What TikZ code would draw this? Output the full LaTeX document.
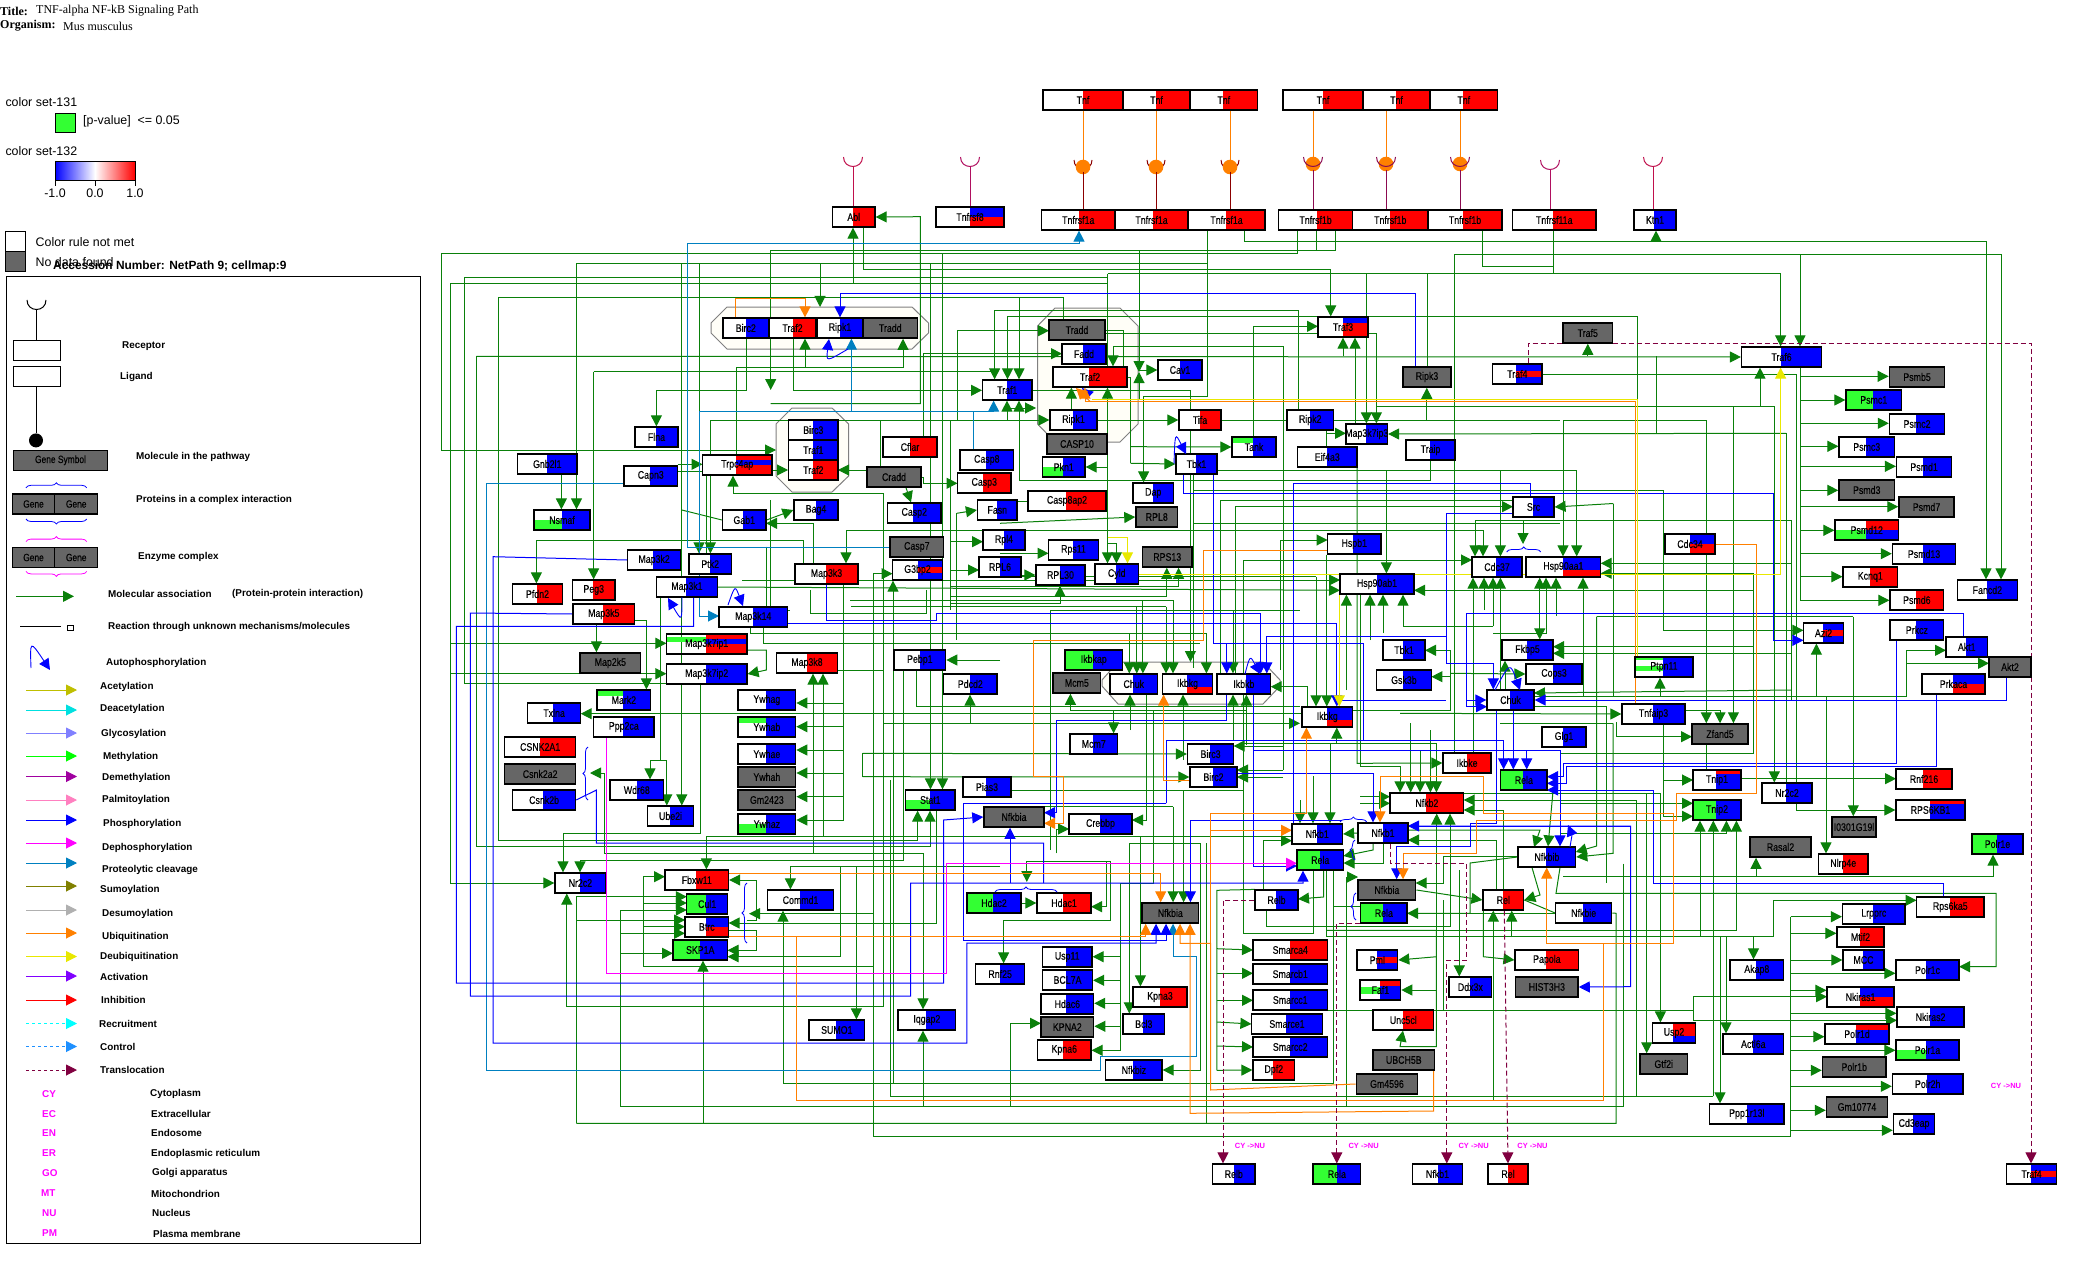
\documentclass[tikz,border=0pt]{standalone}
\usepackage{fontspec}
\usetikzlibrary{arrows.meta,decorations.pathreplacing}
\newfontfamily\genef{Liberation Sans}[FakeStretch=0.8,FakeBold=0.3]
\newfontfamily\legf{Liberation Sans}
\newfontfamily\serf{Liberation Serif}
\definecolor{lm}{HTML}{33FF33}
\definecolor{gn}{HTML}{0A800A}
\definecolor{gy}{HTML}{666666}
\definecolor{st}{HTML}{0080C0}
\definecolor{og}{HTML}{FF8000}
\definecolor{yl}{HTML}{E8E800}
\definecolor{mr}{HTML}{800040}
\definecolor{mg}{HTML}{FF00FF}
\definecolor{kA}{HTML}{BFBF00}\definecolor{kB}{HTML}{00E0E0}\definecolor{kC}{HTML}{8080FF}
\definecolor{kD}{HTML}{A000A0}\definecolor{kE}{HTML}{FF80C0}\definecolor{kF}{HTML}{808000}
\definecolor{kG}{HTML}{B0B0B0}\definecolor{kH}{HTML}{8000FF}\definecolor{kI}{HTML}{00FFFF}
\definecolor{kJ}{HTML}{1E90FF}\definecolor{kK}{HTML}{00FF00}
\definecolor{rA}{HTML}{8B0000}\definecolor{rB}{HTML}{8B0A50}\definecolor{rC}{HTML}{C0104C}\definecolor{rD}{HTML}{B01060}
\pgfdeclarelayer{bot}\pgfdeclarelayer{wires}\pgfsetlayers{bot,wires,main}
\tikzset{
 tip/.style={-{Triangle[length=11pt,width=11pt]}},
 lnG/.style={draw=gn,line width=1pt},arG/.style={lnG,tip},
 lnB/.style={draw=blue,line width=1pt},arB/.style={lnB,tip},
 lnS/.style={draw=st,line width=1pt},arS/.style={lnS,tip},
 lnO/.style={draw=og,line width=1pt},arO/.style={lnO,tip},
 lnY/.style={draw=yl,line width=1pt},arY/.style={lnY,tip},
 arM/.style={draw=mg,line width=1pt,tip},
 arT/.style={draw=mr,line width=1pt,dash pattern=on 5pt off 3pt,tip},
 gbox/.style={draw=black,line width=1.2pt,minimum height=20pt,inner sep=0pt,font=\genef\fontsize{11}{11}\selectfont},
 grbox/.style={gbox,fill=gy,line width=1.5pt},
 oct/.style={draw=gray,fill=black!4!yellow!3!white,line width=1pt},
 leg/.style={anchor=west,inner sep=0pt,font=\legf\bfseries\fontsize{9.9}{10}\selectfont},
 legn/.style={anchor=west,inner sep=0pt,font=\legf\fontsize{12.4}{13}\selectfont},
 bgn/.style={anchor=west,inner sep=0pt,text=mg,font=\legf\bfseries\fontsize{9.9}{10}\selectfont},
 cyn/.style={anchor=center,inner sep=0pt,text=mg,font=\legf\bfseries\fontsize{7.5}{8}\selectfont},
 brc/.style={decorate,decoration={brace,amplitude=5pt},line width=.8pt},
 lgene/.style={grbox,font=\genef\fontsize{10.5}{10.5}\selectfont},
}
\def\pW{white/0/20}\def\pB{blue/0/20}\def\pR{red/0/20}\def\pN{lm/0/20}
\def\pNB{lm/10/20}\def\pNT{lm/0/6}\def\pNS{lm/3/8}\def\pNM{lm/7/14}\def\pNP{lm/1/3,lm/9/14}
\def\pBR{blue/0/10,red/10/20}\def\pBr{blue/0/13,red/13/20}\def\pBRB{blue/0/7,red/7/13,blue/13/20}
\def\pRB{red/0/4,blue/4/20}\def\pRBh{red/0/10,blue/10/20}\def\pRBR{red/0/5,blue/5/10,red/10/20}
\def\pBt{blue/0/6,red/6/20}\def\pRb{red/0/13,blue/13/20}\def\pRc{red/0/6,blue/6/20}
\newcommand\gene[8]{%
 \foreach \bc/\bp/\bq in #6 {\fill[\bc] (#2,{#3+\bp}) rectangle (#5,{#3+\bq});}%
 \foreach \bc/\bp/\bq in #7 {\fill[\bc] (#5,{#3+\bp}) rectangle (#4,{#3+\bq});}%
 \node[gbox,minimum width={(#4-#2)*1pt}] (#1) at ({(#2+#4)/2},{#3+10}) {\makebox[0pt]{#8}};}
\newcommand\grn[5]{\node[grbox,minimum width={(#4-#2)*1pt}] (#1) at ({(#2+#4)/2},{#3+10}) {\makebox[0pt]{#5}};}
\newcommand\Ag[1]{\draw[arG] #1;}\newcommand\Lg[1]{\draw[lnG] #1;}
\newcommand\Ab[1]{\draw[arB] #1;}\newcommand\Lb[1]{\draw[lnB] #1;}
\newcommand\As[1]{\draw[arS] #1;}\newcommand\Ls[1]{\draw[lnS] #1;}
\newcommand\Ao[1]{\draw[arO] #1;}\newcommand\Lo[1]{\draw[lnO] #1;}
\newcommand\Ay[1]{\draw[arY] #1;}\newcommand\Ly[1]{\draw[lnY] #1;}
\newcommand\Am[1]{\draw[arM] #1;}\newcommand\At[1]{\draw[arT] #1;}
\newcommand\recep[4]{\draw[#4,line width=1pt] ({#1-#3},#2) .. controls ({#1-#3},{#2+1.33*#3}) and ({#1+#3},{#2+1.33*#3}) .. ({#1+#3},#2);}
\newcounter{lc}
\newcommand\Lt[4][leg]{\stepcounter{lc}\node[#1] (t\thelc) at (#2,#3) {#4};}
\newcommand\Lar[3]{\stepcounter{lc}\coordinate (a\thelc) at (26,#1);\coordinate (b\thelc) at (77,#1);\draw[draw=#2,line width=1pt,#3,tip] (a\thelc)--(b\thelc);}
\newcommand\Auto[6]{\draw[blue,line width=.9pt,tip] (#1,#2) .. controls (#3,#4) and (#3,#4) .. (#5,#6);}
\begin{document}
\begin{tikzpicture}[x=1pt,y=-1pt]
\useasboundingbox (0,0) rectangle (2085,1273);
% ---------- header and legend
\node[anchor=west,inner sep=0pt,font=\serf\bfseries\fontsize{12}{13}\selectfont] (ti) at (0,11) {Title:};
\node[anchor=west,inner sep=0pt,font=\serf\fontsize{12}{13}\selectfont] (tv) at (36,11) {TNF-alpha NF-kB Signaling Path};
\node[anchor=west,inner sep=0pt,font=\serf\bfseries\fontsize{12}{13}\selectfont] (oi) at (0,26) {Organism:};
\node[anchor=west,inner sep=0pt,font=\serf\fontsize{12}{13}\selectfont] (ov) at (63,26) {Mus musculus};
\Lt[legn]{5.3}{102}{color set-131}
\node[draw=black,fill=lm,line width=1pt,minimum width=20pt,minimum height=19.5pt,inner sep=0pt] (cs) at (65,123.2) {};
\Lt[legn]{83}{120.8}{[p-value]\ \ <= 0.05}
\Lt[legn]{5.3}{151}{color set-132}
\shade[left color=blue,right color=white] (55,161.6) rectangle (95,181);
\shade[left color=white,right color=red] (95,161.6) rectangle (135,181);
\draw[black,line width=1pt] (55,161.6) rectangle (135,181);
\foreach \tx in {55,95,135}{\draw[black,line width=.7pt] (\tx,181)--(\tx,186);}
\node[legn,anchor=center] (t1a) at (55,193.5) {-1.0};
\node[legn,anchor=center] (t1b) at (95,193.5) {0.0};
\node[legn,anchor=center] (t1c) at (135,193.5) {1.0};
\node[draw=black,fill=white,line width=1pt,minimum size=20pt,inner sep=0pt] (cw) at (15.3,241.4) {};
\node[draw=black,fill=gy,line width=1pt,minimum size=20pt,inner sep=0pt] (cg) at (15.3,261.4) {};
\Lt[legn]{35.5}{241.6}{Color rule not met}
\Lt[legn]{35.5}{261.6}{No data found}
\Lt[leg]{53}{266.9}{\fontsize{11.9}{12}\selectfont Accession Number: NetPath 9; cellmap:9}
\draw[black,line width=1pt] (6.3,276.7) rectangle (420.7,1243.5);
\recep{36.5}{300}{9.5}{black}
\node[draw=black,line width=.8pt,minimum width=47.4pt,minimum height=20pt,inner sep=0pt] (lr) at (37,350.4) {};
\node[draw=black,line width=.8pt,minimum width=47.4pt,minimum height=20pt,inner sep=0pt] (ll) at (37,376.5) {};
\coordinate (lrc) at (36.5,310);
\draw[black,line width=.8pt] (lrc)--(lrc|-lr.north);
\node[circle,fill=black,minimum size=14pt,inner sep=0pt] (lc) at (36,440.4) {};
\draw[black,line width=.8pt] (ll.south-|lc)--(lc);
\node[lgene,minimum width=94.4pt] (lgs) at (60.5,460.3) {Gene Symbol};
\draw[blue,brc] (26,487.8)--(86.7,487.8);
\node[lgene,minimum width=42.4pt] (lg1) at (33.5,504) {Gene};
\node[lgene,minimum width=43pt] (lg2) at (76.2,504) {Gene};
\draw[blue,brc] (86.7,519)--(26,519);
\draw[mg,brc] (26,541.6)--(86.7,541.6);
\node[lgene,minimum width=42.4pt] (lg3) at (33.5,557.5) {Gene};
\node[lgene,minimum width=43pt] (lg4) at (76.2,557.5) {Gene};
\draw[mg,brc] (86.7,571.4)--(26,571.4);
\Lt{122}{346.5}{Receptor}\Lt{120}{376.7}{Ligand}\Lt{136}{456.7}{Molecule in the pathway}
\Lt{136}{499.6}{Proteins in a complex interaction}\Lt{138}{556.7}{Enzyme complex}
\Lt{108}{593.5}{Molecular association}\Lt{232}{593.5}{(Protein-protein interaction)}
\Lt{108}{626.5}{Reaction through unknown mechanisms/molecules}
\coordinate (lm1) at (16,596.3);\coordinate (lm2) at (74,596.3);\draw[draw=gn,line width=1pt,tip] (lm1)--(lm2);
\coordinate (lb1) at (20,626);\coordinate (lb2) at (61,626);\draw[black,line width=.7pt] (lb1)--(lb2);
\draw[black,line width=.7pt] (67,630)--(67,625)--(73.5,625)--(73.5,630)--cycle;
\Auto{31}{668}{30}{640}{50}{670}
\Lt{106}{663.4}{Autophosphorylation}
\Lar{690}{kA}{solid}\Lt{100}{686.8}{Acetylation}
\Lar{710}{kB}{solid}\Lt{100}{709.4}{Deacetylation}
\Lar{733}{kC}{solid}\Lt{101}{733.7}{Glycosylation}
\Lar{756}{kK}{solid}\Lt{103}{756.7}{Methylation}
\Lar{776.5}{kD}{solid}\Lt{102}{777.7}{Demethylation}
\Lar{800}{kE}{solid}\Lt{102}{800}{Palmitoylation}
\Lar{820}{blue}{solid}\Lt{103}{823.7}{Phosphorylation}
\Lar{843}{mg}{solid}\Lt{102}{848}{Dephosphorylation}
\Lar{863}{st}{solid}\Lt{102}{869.7}{Proteolytic cleavage}
\Lar{886}{kF}{solid}\Lt{100}{890}{Sumoylation}
\Lar{910}{kG}{solid}\Lt{102}{913.7}{Desumoylation}
\Lar{933}{og}{solid}\Lt{102}{936.7}{Ubiquitination}
\Lar{956.5}{yl}{solid}\Lt{100}{957}{Deubiquitination}
\Lar{976}{kH}{solid}\Lt{100}{976.7}{Activation}
\Lar{1000}{red}{solid}\Lt{101}{999.7}{Inhibition}
\Lar{1023.5}{kI}{dashed}\Lt{99}{1024}{Recruitment}
\Lar{1046.5}{kJ}{dashed}\Lt{100}{1047}{Control}
\Lar{1070}{mr}{dashed}\Lt{100}{1070}{Translocation}
\Lt[bgn]{42}{1093.8}{CY}\Lt{150}{1093.8}{Cytoplasm}
\Lt[bgn]{42}{1113.6}{EC}\Lt{151}{1113.6}{Extracellular}
\Lt[bgn]{42}{1133.3}{EN}\Lt{151}{1133.3}{Endosome}
\Lt[bgn]{42}{1153.5}{ER}\Lt{151}{1153.5}{Endoplasmic reticulum}
\Lt[bgn]{42}{1173.3}{GO}\Lt{152}{1173.3}{Golgi apparatus}
\Lt[bgn]{41}{1193.5}{MT}\Lt{151}{1193.5}{Mitochondrion}
\Lt[bgn]{42}{1213.3}{NU}\Lt{152}{1213.3}{Nucleus}
\Lt[bgn]{42}{1233.5}{PM}\Lt{153}{1233.5}{Plasma membrane}
\Lt[cyn]{1250}{1146}{CY ->NU}\Lt[cyn]{1363.6}{1146}{CY ->NU}\Lt[cyn]{1473.6}{1146}{CY ->NU}\Lt[cyn]{1532.5}{1146}{CY ->NU}\Lt[cyn]{2006}{1086}{CY ->NU}
% ---------- complexes
\begin{pgfonlayer}{bot}
\draw[oct] (727,307)--(912,307)--(928.5,323)--(928.5,333)--(912,349)--(727,349)--(711,333)--(711,323)--cycle;
\draw[oct] (792,408)--(832,408)--(848.6,424)--(848.6,476)--(832,492)--(792,492)--(776,476)--(776,424)--cycle;
\draw[oct] (1055,308)--(1120,308)--(1138,326)--(1138,424)--(1120,442)--(1055,442)--(1037.5,424)--(1037.5,326)--cycle;
\draw[oct] (1118,662)--(1263,662)--(1280,680)--(1280,686)--(1263,704)--(1118,704)--(1102,686)--(1102,680)--cycle;
\end{pgfonlayer}
% ---------- genes
\gene{Tnfa}{1043}{90}{1123}{1083}\pW\pR{Tnf}\gene{Tnfb}{1123}{90}{1190}{1156}\pW\pR{Tnf}\gene{Tnfc}{1190}{90}{1257.5}{1223}\pW\pR{Tnf}
\gene{Tnfd}{1283}{90}{1363}{1323}\pW\pR{Tnf}\gene{Tnfe}{1363}{90}{1430}{1396}\pW\pR{Tnf}\gene{Tnff}{1430}{90}{1497.5}{1463}\pW\pR{Tnf}
\gene{Ra1}{1041.5}{210}{1115}{1079}\pW\pR{Tnfrsf1a}\gene{Ra2}{1115}{210}{1188}{1153}\pW\pR{Tnfrsf1a}\gene{Ra3}{1188}{210}{1265}{1226}\pW\pR{Tnfrsf1a}
\gene{Rb1}{1278.6}{210}{1352.5}{1317}\pW\pR{Tnfrsf1b}\gene{Rb2}{1352.5}{210}{1428}{1390}\pW\pR{Tnfrsf1b}\gene{Rb3}{1428}{210}{1502}{1463}\pW\pR{Tnfrsf1b}
\gene{R11}{1512.5}{210}{1596}{1553}\pW\pR{Tnfrsf11a}
\gene{Kt}{1634}{210}{1676}{1654}\pW\pB{Ktn1}
\gene{R8}{936}{207}{1004}{970}\pW\pBR{Tnfrsf8}
\gene{Abl}{832.5}{207}{875}{853}\pW\pR{Abl}
\gene{BircA}{723}{318}{768.6}{746}\pW\pB{Birc2}\gene{TrafA}{769}{318}{816}{793}\pW\pR{Traf2}\gene{RipkA}{817.5}{318}{862.5}{840}\pW\pB{Ripk1}\grn{TraddA}{863}{318}{917.5}{Tradd}
\gene{Flna}{635}{427}{678}{656}\pW\pB{Flna}
\gene{BircB}{788.6}{420}{838}{813}\pW\pB{Birc3}\gene{Traf1B}{788.6}{440}{838}{813}\pW\pB{Traf1}\gene{Traf2B}{788.6}{460}{838}{813}\pW\pR{Traf2}
\gene{Cflar}{883}{437}{937}{910}\pW\pR{Cflar}
\grn{TraddC}{1049}{320}{1105}{Tradd}\gene{Fadd}{1062}{344}{1106}{1083}\pW\pB{Fadd}\gene{Traf2C}{1053}{367}{1127}{1089}\pW\pR{Traf2}
\gene{Ripk1C}{1050}{410}{1097}{1073}\pW\pB{Ripk1}\grn{Casp10}{1047}{434}{1107}{CASP10}
\gene{Traf1}{982.5}{380}{1032}{1007}\pW\pB{Traf1}\gene{Cav1}{1158}{360}{1202}{1180}\pW\pB{Cav1}
\gene{Traf3}{1318}{317}{1368}{1343}\pW\pBt{Traf3}\grn{Ripk3}{1403}{367}{1451}{Ripk3}\gene{Traf4}{1492.5}{364}{1542}{1516}\pW\pBRB{Traf4}
\gene{Tifa}{1179}{410}{1221}{1200}\pW\pR{Tifa}\gene{Ripk2}{1287}{410}{1333.5}{1310}\pW\pB{Ripk2}
\gene{Map3k7ip3}{1346}{424}{1387.5}{1366}\pW\pB{Map3k7ip3}\gene{Tank}{1232}{437}{1276}{1253}\pNT\pB{Tank}
\gene{Eif4a3}{1297.5}{447}{1357}{1327}\pW\pB{Eif4a3}\gene{Traip}{1406}{440}{1455}{1430}\pW\pB{Traip}\gene{Tbk1}{1176}{454}{1217}{1196}\pW\pB{Tbk1}
\gene{Pkn1}{1042.5}{457}{1085}{1063}\pNB\pB{Pkn1}\gene{Dap}{1133}{483}{1173.5}{1153}\pW\pB{Dap}\grn{RPL8}{1136}{507}{1177.5}{RPL8}
\gene{Casp8ap2}{1028}{491}{1106}{1066}\pW\pR{Casp8ap2}\gene{Rpl4}{983}{530}{1025}{1004}\pW\pB{Rpl4}\gene{RPL6}{979}{557}{1021}{1000}\pW\pB{RPL6}
\gene{Rps11}{1048.5}{540}{1098.5}{1073}\pW\pB{Rps11}\gene{RPL30}{1036}{565}{1085}{1060}\pW\pB{RPL30}\grn{RPS13}{1142.5}{547}{1192}{RPS13}
\gene{Cyld}{1095}{564}{1138.5}{1116}\pW\pB{Cyld}\gene{Hspb1}{1327.5}{534}{1381}{1353}\pW\pB{Hspb1}\gene{Hsp90ab1}{1340}{574}{1414}{1377}\pW\pB{Hsp90ab1}
\gene{Src}{1513}{497}{1554}{1533}\pW\pB{Src}\gene{Cdc37}{1472}{557}{1522}{1496}\pW\pB{Cdc37}\gene{Hsp90aa1}{1526}{557}{1600.7}{1563}\pW\pBr{Hsp90aa1}
\gene{Cdc34}{1665}{534}{1715}{1690}\pW\pBR{Cdc34}\gene{Fkbp5}{1502}{640}{1553}{1527}\pW\pB{Fkbp5}\gene{Cops3}{1526}{664}{1582}{1553}\pW\pB{Cops3}
\gene{Chuk2}{1487}{690}{1534}{1510}\pW\pB{Chuk}\gene{Ptpn11}{1635}{657}{1693}{1663}\pNP\pB{Ptpn11}\gene{Tnfaip3}{1622}{704}{1685}{1653}\pW\pB{Tnfaip3}
\grn{Zfand5}{1692}{724}{1748}{Zfand5}\gene{Glg1}{1542}{727}{1586}{1563}\pW\pB{Glg1}
\grn{Traf5}{1563}{323}{1612.5}{Traf5}\gene{Traf6}{1741.5}{347}{1821.5}{1781}\pW\pB{Traf6}\grn{Psmb5}{1889.4}{367}{1944.7}{Psmb5}
\gene{Psmc1}{1846}{390}{1901.5}{1873}\pN\pB{Psmc1}\gene{Psmc2}{1889.4}{414}{1944.7}{1916}\pW\pB{Psmc2}\gene{Psmc3}{1839}{437}{1894.5}{1866}\pW\pB{Psmc3}
\gene{Psmd1}{1896.5}{457}{1951.7}{1923}\pW\pB{Psmd1}\grn{Psmd3}{1839}{480}{1894.5}{Psmd3}\grn{Psmd7}{1899}{497}{1954}{Psmd7}
\gene{Psmd12}{1835}{520}{1898.5}{1866}\pNB\pRBh{Psmd12}\gene{Psmd13}{1892.4}{544}{1955.7}{1923}\pW\pB{Psmd13}\gene{Kcnq1}{1843}{567}{1897.5}{1870}\pW\pR{Kcnq1}
\gene{Psmd6}{1890}{590}{1943.7}{1916}\pW\pR{Psmd6}\gene{Fancd2}{1957.4}{580}{2017.3}{1987}\pW\pB{Fancd2}\gene{Azi2}{1803.4}{623}{1843.6}{1823}\pW\pBRB{Azi2}
\gene{Prkcz}{1890}{620}{1943.7}{1916}\pW\pB{Prkcz}\gene{Akt1}{1946}{637}{1987.5}{1966}\pW\pB{Akt1}\grn{Akt2}{1989}{657}{2031}{Akt2}\gene{Prkaca}{1922}{674}{1985}{1953}\pW\pBR{Prkaca}
\gene{Tnip1}{1693}{770}{1741}{1716}\pW\pRB{Tnip1}\gene{Tnip2}{1693}{800}{1741}{1716}\pN\pB{Tnip2}\gene{Nr2c2b}{1762}{783}{1812}{1786}\pW\pB{Nr2c2}
\gene{Rnf216}{1896}{769}{1952}{1923}\pW\pR{Rnf216}\gene{RPS6KB1}{1896}{800}{1965}{1930}\pW\pRB{RPS6KB1}\grn{I0301}{1832}{817}{1876}{I0301G19l}
\grn{Rasal2}{1750}{837}{1811}{Rasal2}\gene{Nlrp4e}{1818.5}{854}{1868}{1843}\pW\pR{Nlrp4e}\gene{Polr1e}{1972}{834}{2023}{1997}\pN\pB{Polr1e}
\gene{Rps6ka5}{1916.5}{897}{1984}{1950}\pW\pR{Rps6ka5}\gene{Lrpprc}{1842.5}{904}{1905}{1873}\pW\pB{Lrpprc}\gene{Mtif2}{1837}{927}{1884}{1860}\pW\pR{Mtif2}
\gene{MCC}{1843}{950}{1884}{1863}\pW\pB{MCC}\gene{Polr1c}{1896}{960}{1959}{1926}\pW\pB{Polr1c}\gene{Akap8}{1730}{960}{1783.6}{1756}\pW\pB{Akap8}
\gene{Nkiras1}{1827}{987}{1894}{1860}\pW\pBR{Nkiras1}\gene{Nkiras2}{1897}{1007}{1964}{1930}\pW\pB{Nkiras2}\gene{Polr1d}{1825}{1024}{1889}{1856}\pW\pRc{Polr1d}
\gene{Polr1a}{1896}{1040}{1959}{1926}\pNB\pB{Polr1a}\grn{Polr1b}{1822.5}{1057}{1886}{Polr1b}\gene{Polr2h}{1892.4}{1074}{1963}{1927}\pW\pB{Polr2h}
\gene{Actl6a}{1723}{1034}{1783.6}{1753}\pW\pB{Actl6a}\gene{Usp2}{1652.4}{1023}{1695.6}{1673}\pW\pRb{Usp2}\grn{Gtf2i}{1640}{1054}{1687.5}{Gtf2i}
\gene{Ppp1r13l}{1709.6}{1104}{1784}{1747}\pW\pB{Ppp1r13l}\grn{Gm10774}{1826.5}{1097}{1887.4}{Gm10774}\gene{Cd3eap}{1893.4}{1114}{1934.6}{1913}\pW\pB{Cd3eap}
\gene{Traf4b}{2006.6}{1164}{2056.5}{2031}\pW\pBRB{Traf4}\gene{Nfkbie}{1555.7}{903}{1611.7}{1583}\pW\pB{Nfkbie}
\gene{Ikbke}{1443}{753}{1491}{1467}\pW\pR{Ikbke}\gene{Rela1}{1500.7}{770}{1547}{1523}\pN\pB{Rela}\gene{Nfkb2}{1390}{793}{1463.7}{1426}\pW\pR{Nfkb2}
\gene{Nfkb1b}{1358}{823}{1408}{1383}\pW\pB{Nfkb1}\gene{Nfkbib}{1518}{847}{1575.7}{1546}\pW\pB{Nfkbib}\grn{Nfkbia2}{1358}{880}{1415.7}{Nfkbia}
\gene{Rela3}{1360.7}{903}{1407}{1383}\pN\pB{Rela}\gene{Rel1}{1483}{890}{1523.7}{1503}\pW\pR{Rel}\gene{Pml}{1357}{950}{1397.7}{1377}\pW\pBRB{Pml}
\gene{Faf1}{1360}{980}{1400.7}{1380}\pNM\pRc{Faf1}\gene{Papola}{1515}{950}{1578.7}{1546}\pW\pR{Papola}\grn{HIST3H3}{1515.7}{977}{1578}{HIST3H3}\gene{Ddx3x}{1449}{977}{1491.7}{1470}\pW\pB{Ddx3x}
\gene{Nfkb1a}{1292}{824}{1342.5}{1317}\pW\pB{Nfkb1}\gene{Rela2}{1297}{850}{1343.5}{1320}\pN\pB{Rela}\gene{Relb}{1255}{890}{1298}{1276}\pW\pB{Relb}
\gene{Hdac1}{1037}{893}{1091}{1062.5}\pW\pR{Hdac1}\gene{Hdac2}{967}{893}{1021}{993}\pN\pB{Hdac2}\grn{NfkbiaC}{1142}{903}{1198.6}{Nfkbia}
\gene{Usp11}{1042.5}{947}{1092}{1066}\pW\pB{Usp11}\gene{BCL7A}{1042.5}{970}{1092.5}{1066}\pW\pB{BCL7A}\gene{Hdac6}{1041}{994}{1093.6}{1066}\pW\pB{Hdac6}
\grn{KPNA2}{1041}{1017}{1093.6}{KPNA2}\gene{Kpna6}{1037.5}{1040}{1091}{1063}\pW\pR{Kpna6}\gene{Nfkbiz}{1105.7}{1060}{1162}{1133}\pW\pB{Nfkbiz}
\gene{Kpna3}{1133}{987}{1187}{1160}\pW\pR{Kpna3}\gene{Bcl3}{1123}{1014}{1164.6}{1143}\pW\pB{Bcl3}
\gene{Smarca4}{1253}{940}{1327.5}{1290}\pW\pR{Smarca4}\gene{Smarcb1}{1253}{964}{1327.5}{1290}\pW\pB{Smarcb1}\gene{Smarcc1}{1253}{990}{1327.5}{1290}\pW\pB{Smarcc1}
\gene{Smarce1}{1251.4}{1014}{1322.5}{1285.7}\pW\pB{Smarce1}\gene{Smarcc2}{1253}{1037}{1327.5}{1290}\pW\pB{Smarcc2}\gene{Dpf2}{1253}{1060}{1294.6}{1273}\pW\pR{Dpf2}
\gene{Unc5cl}{1373}{1010}{1433.6}{1403}\pW\pR{Unc5cl}\grn{UBCH5B}{1373}{1050}{1434.6}{UBCH5B}\grn{Gm4596}{1356.4}{1074}{1417.5}{Gm4596}
\gene{Relbb}{1212.5}{1164}{1255}{1233.6}\pW\pB{Relb}\gene{Relab}{1313}{1164}{1360.7}{1337}\pN\pB{Rela}\gene{Nfkb1c}{1412.5}{1164}{1462.5}{1437.5}\pW\pB{Nfkb1}\gene{Relc}{1488}{1164}{1528}{1508}\pW\pR{Rel}
\gene{Ikbkap}{1065}{650}{1122.5}{1093}\pN\pB{Ikbkap}\grn{Mcm5}{1053}{673}{1100.7}{Mcm5}\gene{Chuk}{1110}{674}{1157.5}{1133}\pW\pB{Chuk}
\gene{Ikbkg}{1162.5}{674}{1212.5}{1187}\pW\pBr{Ikbkg}\gene{Ikbkb}{1217}{674}{1270.7}{1246}\pW\pB{Ikbkb}\gene{Mcm7}{1070}{734}{1117.5}{1093}\pW\pB{Mcm7}
\gene{Ikbkg2}{1302}{707}{1352.5}{1327}\pW\pBr{Ikbkg}\gene{Tbk1b}{1383}{640}{1425}{1403}\pW\pB{Tbk1}\gene{Gsk3b}{1376.4}{670}{1431.4}{1403}\pW\pB{Gsk3b}
\gene{Birc3}{1187.5}{744}{1233.6}{1210}\pW\pB{Birc3}\gene{Birc2}{1190}{767}{1237}{1213}\pW\pB{Birc2}\gene{Crebbp}{1069}{814}{1132}{1100}\pW\pB{Crebbp}
\grn{Nfkbia1}{984}{807}{1044}{Nfkbia}\gene{Pias3}{963}{777}{1011}{986}\pW\pB{Pias3}
\gene{Gnb2l1}{517.5}{454}{577}{547}\pW\pB{Gnb2l1}\gene{Capn3}{624}{466}{677.5}{650}\pW\pB{Capn3}\gene{Trpc4ap}{702.5}{455}{772}{736}\pW\pRBR{Trpc4ap}
\gene{Nsmaf}{534}{510}{590}{562}\pNB\pB{Nsmaf}\gene{Gab1}{722.5}{510}{766}{743}\pW\pB{Gab1}\gene{Bag4}{794}{500}{838}{816}\pW\pB{Bag4}\grn{Cradd}{867}{467}{921}{Cradd}
\gene{Casp2}{887.5}{503}{941}{913}\pW\pB{Casp2}\gene{Casp8}{960}{450}{1013.6}{986.4}\pW\pB{Casp8}\gene{Casp3}{957.5}{473}{1011}{983}\pW\pR{Casp3}\gene{Fasn}{977.5}{500}{1017}{997}\pW\pB{Fasn}
\grn{Casp7}{890}{537}{943.6}{Casp7}\gene{G3bp2}{892.5}{560}{942.5}{917.5}\pW\pBRB{G3bp2}\gene{Map3k2}{627.5}{550}{680.7}{653}\pW\pB{Map3k2}\gene{Ptk2}{689}{554}{731.4}{710}\pW\pB{Ptk2}
\gene{Map3k3}{795}{564}{858}{826}\pW\pR{Map3k3}\gene{Map3k1}{656.4}{577}{717.5}{686}\pW\pB{Map3k1}\gene{Pfdn2}{512.5}{584}{562.5}{537}\pW\pR{Pfdn2}\gene{Peg3}{572.5}{580}{615}{593}\pW\pR{Peg3}
\gene{Map3k5}{573}{604}{634.6}{603}\pW\pR{Map3k5}\gene{Map3k14}{719}{607}{787.5}{753}\pW\pB{Map3k14}\gene{Map3k7ip1}{666.4}{634}{747}{706}\pNS\pRBR{Map3k7ip1}\gene{Map3k7ip2}{666.4}{664}{747}{706}\pW\pB{Map3k7ip2}
\grn{Map2k5}{580}{653}{640.7}{Map2k5}\gene{Map3k8}{776.4}{653}{837.5}{807}\pW\pR{Map3k8}\gene{Pebp1}{894}{650}{945.7}{920}\pW\pB{Pebp1}\gene{Pdcd2}{943.6}{674}{997}{970}\pW\pB{Pdcd2}
\gene{Mark2}{597}{690}{650.7}{623}\pNT\pB{Mark2}\gene{Txlna}{527.5}{703}{580.7}{553}\pW\pB{Txlna}\gene{Ppp2ca}{593.6}{717}{654}{623}\pW\pB{Ppp2ca}\gene{CSNK2A1}{504.6}{737}{575.7}{540}\pW\pR{CSNK2A1}
\grn{Csnk2a2}{504.6}{764}{575.7}{Csnk2a2}\gene{Csnk2b}{512.5}{790}{575.7}{543}\pW\pB{Csnk2b}\gene{Wdr68}{610}{780}{663.6}{637}\pW\pB{Wdr68}\gene{Ube2i}{647.5}{806}{693.6}{670}\pW\pB{Ube2i}
\gene{Ywhag}{738}{690}{795.7}{766}\pW\pB{Ywhag}\gene{Ywhab}{738}{717}{795.7}{766}\pNT\pB{Ywhab}\gene{Ywhae}{738}{744}{795.7}{766}\pW\pB{Ywhae}\grn{Ywhah}{738}{767}{795.7}{Ywhah}
\grn{Gm2423}{738}{790}{795.7}{Gm2423}\gene{Ywhaz}{738}{814}{795.7}{766}\pNB\pB{Ywhaz}\gene{Stat1}{905.7}{790}{955}{930}\pNB\pB{Stat1}
\gene{Nr22}{555}{873}{605.7}{580}\pW\pB{Nr2c2}\gene{Fbxw11}{665}{870}{728.6}{696}\pW\pR{Fbxw11}\gene{Cul1}{686.8}{894}{727.5}{706}\pN\pB{Cul1}\gene{Btrc}{685}{917}{728.6}{706}\pW\pBR{Btrc}
\gene{SKP1A}{673}{940}{727.5}{700}\pN\pB{SKP1A}\gene{Commd1}{767.5}{890}{833.6}{800}\pW\pB{Commd1}\gene{SUMO1}{809}{1020}{864.6}{836}\pW\pB{SUMO1}\gene{Iqgap2}{898}{1010}{955.7}{926}\pW\pB{Iqgap2}
\gene{Rnf25}{975.7}{964}{1024.6}{1000}\pW\pB{Rnf25}
% ---------- receptors and ligands
\foreach \rx/\tn/\rn in {1083/Tnfa/Ra1,1156/Tnfb/Ra2,1230/Tnfc/Ra3}{
 \recep{\rx}{160}{9}{rA}
 \draw[draw=og,line width=1pt] (\tn.south-|\rx,0)--(\rx,167);
 \fill[og] (\rx,167) circle (7.3pt);
 \draw[draw=rA,line width=1pt] (\rx,172)--(\rn.north-|\rx,0);}
\foreach \rx/\tn/\rn in {1313/Tnfd/Rb1,1386/Tnfe/Rb2,1460/Tnff/Rb3}{
 \draw[draw=og,line width=1pt] (\tn.south-|\rx,0)--(\rx,164);
 \fill[og] (\rx,164) circle (7.3pt);
 \recep{\rx}{157}{9.5}{rB}
 \draw[draw=rB,line width=1pt] (\rx,170)--(\rn.north-|\rx,0);}
\recep{1550}{160}{9.5}{rD}\draw[draw=rD,line width=1pt] (1550,170)--(R11.north-|1550,0);
\recep{1653}{157}{9.5}{rC}\draw[draw=rC,line width=1pt] (1653,167)--(Kt.north-|1653,0);
\recep{853}{157}{9.5}{rC}\draw[draw=rC,line width=1pt] (853,167)--(Abl.north-|853,0);
\recep{970}{157}{9.5}{rD}\draw[draw=rD,line width=1pt] (970,167)--(R8.north-|970,0);
% ---------- braces
\draw[blue,brc] (1506.7,552)--(1540.7,552);
\draw[blue,brc] (1340,822)--(1366.7,822);
\draw[blue,brc] (995,892)--(1057,892);
\draw[blue,brc] (1355,860)--(1355,840);
\draw[blue,brc] (1356,920)--(1356,893);
\draw[blue,brc] (588,800)--(588,747);
\draw[blue,brc] (747,943)--(747,883);
% ---------- connectors
\begin{pgfonlayer}{wires}
\Ag{(Rb1.south-|1297.5,0)--(1297.5,254)--(441,254)--(441,450)--(776,450)}
\Ag{(Rb1.south-|1316.4,0)--(1316.4,251)--(770.7,251)--(770.7,390)}
\Lg{(Rb1.south-|1335,0)--(1335,251)--(1316,251)}
\Ag{(1139,251)--(1139,372)}\Ag{(1139,400)--(1139,372)}\Ag{(1139,370)--(Cav1.west)}
\Ag{(Ra3.south-|1207.5,0)--(1207.5,264)--(576.5,264)--(Nsmaf.north-|576.5,0)}
\Ag{(681.8,264)--(Ube2i.north-|681.8,0)}\Ag{(699,264)--(Ptk2.north-|699,0)}\Ag{(820,264)--(820,307)}
\Ag{(Abl.south-|863.6,0)--(863.6,270)--(1330.7,270)--(Traf3.north-|1330.7,0)}
\Lg{(1107,277.7)--(464,277.7)--(464,683.7)--(700,683.7)}
\Ag{(Rb3.south-|1482.5,0)--(1482.5,266.3)--(1553.6,266.3)--(1553.6,273.6)--(1780.6,273.6)--(Traf6.north-|1780.6,0)}
\Lg{(R11.south-|1553.6,0)--(1553.6,273.6)--(1107.5,273.6)}
\Ag{(1107.5,273.6)--(Cyld.north-|1107.5,0)}\Ag{(1107.5,430)--(Traf2C.south-|1107.5,0)}
\Ag{(1107.5,543)--(1116.4,543)--(Cyld.north-|1116.4,0)}\Ag{(1107.5,467)--(Pkn1.east)}
\Ag{(1107,283.7)--(450.4,283.7)--(450.4,883)--(Nr22.west)}\Ag{(450.4,643.3)--(666.4,643.3)}
\Ag{(450.4,673.7)--(666.4,673.7)}\Ag{(853,283.7)--(Abl.south-|853,0)}
\Lg{(Ripk3.north-|1427,0)--(1427,273.6)}
\Ag{(TraddC.north-|1063,0)--(1063,297.7)--(498,297.7)--(498,840)--(917.6,840)--(Stat1.south-|917.6,0)}
\Ag{(476.4,356.3)--(Traf6.west)}
\Ag{(476.4,356.3)--(476.4,846)--(930,846)--(Stat1.south-|930,0)}
\Ag{(923,353.7)--(1062,353.7)}\Lg{(923,353.7)--(Cflar.north-|923,0)}\Ag{(1587.8,356.3)--(Traf5.south-|1587.8,0)}
\Lg{(593.6,371.7)--(993,371.7)}\Ag{(593.6,371.7)--(Peg3.north-|593.6,0)}
\Ag{(1019,297.7)--(Traf1.north-|1019,0)}\Ag{(1007.5,316)--(Traf1.north-|1007.5,0)}
\Ag{(Trpc4ap.north-|736.4,0)--(736.4,367)--(903,367)--(TraddA.south-|903,0)}\Ag{(805,367)--(TrafA.south-|805,0)}
\Ag{(BircA.south-|746.4,0)--(746.4,390.3)--(656.4,390.3)--(Flna.north-|656.4,0)}
\Ag{(TrafA.south-|793.6,0)--(793.6,390.3)--(982,390.3)}
\Ag{(770.7,403.7)--(920.4,403.7)--(920.4,216.7)--(Abl.east)}
\Ag{(942.5,254)--(Stat1.north-|942.5,0)}\Ag{(930.4,264)--(Stat1.north-|930.4,0)}
\Lg{(1007.5,316)--(1318,316)}\Lg{(1368,316)--(1637.3,316)--(1637.3,657)}
\Ag{(Trpc4ap.north-|710,0)--(710,420)--(957,420)--(957,330.7)--(1049,330.7)}
\Ag{(Ripk2.north-|1298,0)--(1298,310)--(994.6,310)--(Traf1.north-|994.6,0)}
\Lg{(880.4,420)--(Cradd.north-|880.4,0)}\Lg{(950,420)--(950,610)}\Ag{(957,420)--(Ripk1C.west)}
\Ag{(Tank.north-|1253.6,0)--(1253.6,326.3)--(1318,326.3)}
\Ag{(1343,356.3)--(Traf3.south-|1343,0)}\Ag{(1355,424)--(Traf3.south-|1355,0)}
\Ag{(1368,333.7)--(1376.4,333.7)--(Map3k7ip3.north-|1376.4,0)}\Ag{(1366.4,273.6)--(Map3k7ip3.north-|1366.4,0)}
\Lg{(1106,333)--(1318,333)}\Lg{(1105,330.3)--(1123,330.3)--(1123,387)}
\Ag{(1283,346.3)--(1113,346.3)--(Traf2C.north-|1113,0)}\Lg{(1283,346.3)--(1283,770)}
\Ag{(1283,746)--(1233.6,746)}\Ag{(1283,770)--(1237,770)}\Ag{(1283,777)--(1237,777)}
\Ag{(1333,420.3)--(1426.8,420.3)--(Ripk3.south-|1426.8,0)}\Lg{(1426.8,420.3)--(1560,420.3)}
\Ag{(1326,430)--(1326,433.3)--(1346,433.3)}\Lg{(1326,430)--(Eif4a3.north-|1326,0)}
\Ag{(Ripk1C.east)--(Tifa.west)}\Lg{(1032,390.7)--(1190.7,390.7)--(Tifa.north-|1190.7,0)}\Lg{(Tifa.south-|1190.7,0)--(Tbk1.north-|1190.7,0)}\Lg{(Tifa.east)--(Ripk2.west)}
\Ag{(1207.5,264)--(1207.5,396.7)--(1143.6,396.7)--(Dap.north-|1143.6,0)}
\Lg{(Traf2C.east)--(1130.7,377)--(1130.7,463.3)}\Ag{(1130.7,446.7)--(Tank.west)}\Ag{(1130.7,463.3)--(Tbk1.west)}
\Ag{(1007,420)--(Traf1.south-|1007,0)}\Ag{(Traip.south-|1430,0)--(1430,480.3)--(1019,480.3)--(Traf1.south-|1019,0)}
\Ag{(1010,408)--(1036,408)}\Ag{(1071.4,410)--(Traf2C.south-|1071.4,0)}
\Lg{(Casp8ap2.west)--(1018,501)}\Ag{(1000,523.3)--(RPL8.west)}
\Ag{(1280,670)--(1280,540)--(1327.5,540)}
\Ag{(1129.3,633.3)--(Chuk.north-|1129.3,0)}\Ag{(1136.8,606.7)--(Chuk.north-|1136.8,0)}\Ag{(1142.9,600)--(Chuk.north-|1142.9,0)}
\Lg{(850,600)--(1173,600)}\Ag{(1173,600)--(Ikbkg.north-|1173,0)}\Lg{(851,606.7)--(1166,606.7)}\Ag{(1166,606.7)--(Ikbkg.north-|1166,0)}
\Ag{(Tbk1.south-|1190.4,0)--(1190.4,662)}\Lg{(Tbk1.south-|1193,0)--(1193,668)}\Ag{(1206.4,633.3)--(Ikbkg.north-|1206.4,0)}\Lg{(1023,633.3)--(1206.4,633.3)}
\Ag{(1233,610.3)--(Ikbkb.north-|1233,0)}\Lg{(1050.7,610.3)--(1300,610.3)}\Lg{(1050.7,610.3)--(1050.7,850)}
\Ag{(1243.6,560)--(1472,560)}\Lg{(1243.6,560)--(1243.6,933.3)--(1313.6,933.3)--(Rela2.south-|1313.6,0)}
\Lg{(1220.7,500.3)--(1513,500.3)}\Lg{(1220.7,500.3)--(Ikbkb.north-|1220.7,0)}\Ag{(1235.7,674)--(1235.7,506.7)--(1513,506.7)}
\Ag{(Tbk1.south-|1193,0)--(1193,490.7)--(1663.3,490.7)--(1663.3,630.3)--(1803.4,630.3)}\Lg{(1193,523.3)--(1560,523.3)}
\Ag{(1386.4,470.3)--(Hsp90ab1.north-|1386.4,0)}\Lg{(1180,470.3)--(1576.7,470.3)}\Ag{(1576.7,470.3)--(Hsp90aa1.north-|1576.7,0)}\Ag{(1500.4,470.3)--(Cdc37.north-|1500.4,0)}
\Ag{(1563,420)--(Hsp90aa1.north-|1563,0)}\Ag{(1563,420)--(1706.3,420)--(Zfand5.north-|1706.3,0)}
\Ag{(1475,520.3)--(Cdc37.north-|1475,0)}\Ag{(1523,520.3)--(1523,544)}\Lg{(1475,520.3)--(1791,520.3)--(1791,700)}
\Ag{(1483,530)--(Cdc37.north-|1483,0)}\Ag{(1483,530)--(846,530)--(Map3k3.north-|846,0)}
\Ag{(742,580)--(1340,580)}\Ag{(Map3k1.east)--(1340,590.3)}\Ag{(1753.5,590.3)--(1414,590.3)}\Lg{(1753.5,573.3)--(1753.5,753.3)--(1560,753.3)}\Ag{(1753.5,573.3)--(1600.7,573.3)}\Ag{(1791,563.3)--(1600.7,563.3)}
\Ag{(1346.4,690)--(Hsp90ab1.south-|1346.4,0)}\Ag{(1370,640)--(Hsp90ab1.south-|1370,0)}\Ag{(1383,633)--(Hsp90ab1.south-|1383,0)}
\Ag{(1493,626.3)--(1403,626.3)--(Hsp90ab1.south-|1403,0)}\Ag{(1493,626.3)--(Cdc37.south-|1493,0)}
\Ag{(Ikbke.north-|1473,0)--(Cdc37.south-|1473,0)}\Ag{(1484,610)--(Cdc37.south-|1484,0)}\Ag{(Chuk2.north-|1500.4,0)--(Cdc37.south-|1500.4,0)}\Ag{(Chuk2.north-|1505,0)--(Fkbp5.south-|1505,0)}
\Ag{(1539.7,600)--(Fkbp5.north-|1539.7,0)}\Ag{(1539.7,620)--(Hsp90aa1.south-|1539.7,0)}\Ag{(1493,633.3)--(1546,633.3)--(Hsp90aa1.south-|1546,0)}\Ag{(1556,616)--(Hsp90aa1.south-|1556,0)}
\Ag{(1583,696.7)--(Hsp90aa1.south-|1583,0)}\Lg{(1534,696.7)--(1613.3,696.7)--(1613.3,503.5)}\Ag{(1613.3,503.5)--(Src.east)}
\Ag{(1753,646.7)--(1553,646.7)}\Ag{(1791,653.3)--(1553,653.3)}\Ag{(1791,690)--(1534,693)}\Ag{(1450,673.3)--(Cops3.west)}\Ag{(1400,713.3)--(Tnfaip3.west)}
\Ag{(1616.7,722)--(1616.7,736.7)--(1692,736.7)}
\Ag{(Tnfaip3.south-|1663.4,0)--(1663.4,780)--(1693,780)}\Ag{(1663.4,780)--(1663.4,816.3)--(1693,816.3)}\Ag{(1685,710)--(1720,710)--(Zfand5.north-|1720,0)}\Lg{(Zfand5.south-|1706.3,0)--(Tnip1.north-|1706.3,0)}\Ag{(1560,803.3)--(1693,803.3)}
\Ag{(1376.4,406.5)--(1774.3,406.5)--(Nr2c2b.north-|1774.3,0)}\Ag{(1760,406.5)--(Traf6.south-|1760,0)}\Ag{(1733.4,406.5)--(Zfand5.north-|1733.4,0)}
\Ag{(1786.3,433.3)--(Map3k7ip3.east)}\Lg{(1786.3,433.3)--(Nr2c2b.north-|1786.3,0)}\Lg{(1656.4,433.3)--(1656.4,356.3)}
\Ag{(Traf4.east)--(1796.4,374)--(1796.4,810)--(RPS6KB1.west)}
\Ag{(1853.3,616.7)--(I0301.north-|1853.3,0)}\Lg{(1596.7,616.7)--(1853.3,616.7)}\Ag{(1596.7,616.7)--(1596.7,846)--(1575.7,852)}
\Ag{(1826,696.7)--(Nlrp4e.north-|1826,0)}\Lg{(1500,706.7)--(1606,706.7)--(1606,883.3)}
\Lg{(Traf6.south-|1800.4,0)--(1800.4,600.3)}
\foreach \ty/\tn in {376.3/Psmb5,400/Psmc1,423.3/Psmc2,446.3/Psmc3,466.3/Psmd1,490.3/Psmd3,506.7/Psmd7,530.3/Psmd12,553.7/Psmd13,576.7/Kcnq1,600.3/Psmd6}{\Ag{(1800.4,\ty)--(\tn.west|-1800.4,\ty)}}
\Ag{(Ra3.south-|1244.6,0)--(1244.6,241.3)--(1986,241.3)--(Fancd2.north-|1986,0)}
\Ag{(Ikbke.north-|1454,0)--(1454,254.7)--(2001,254.7)--(Fancd2.north-|2001,0)}
\Ag{(1800,254.7)--(Traf6.north-|1800,0)}\Ag{(1656,241.3)--(Kt.south-|1656,0)}
\Ag{(1816.4,696.7)--(Azi2.south-|1816.4,0)}
\Ag{(1660,696.7)--(Ptpn11.south-|1660,0)}\Lg{(1534,696.7)--(1906,696.7)--(1906,650.3)}\Ag{(1906,650.3)--(1946,650.3)}\Ag{(1906,663.3)--(1989,663.3)}
\Ag{(Tnip1.east|-1741,778.7)--(1896,778.7)}
\Ag{(1326.8,870)--(1326.8,936.5)--(1773.6,936.5)--(1773.6,900.3)--(1916.5,900.3)}
\Ag{(1753.5,936.5)--(Akap8.north-|1753.5,0)}\Ag{(1726,936.5)--(Actl6a.north-|1726,0)}\Ag{(1720,936.5)--(Ppp1r13l.north-|1720,0)}\Ag{(1700,936.5)--(Tnip2.south-|1700,0)}
\Ag{(1400,930)--(1736.4,930)--(Tnip2.south-|1736.4,0)}\Ag{(1560,833.3)--(1726.4,833.3)--(Tnip2.south-|1726.4,0)}
\Ag{(Nfkbib.south-|1560,0)--(1556,893.3)--(1996,893.3)--(1996,966.7)--(1959,966.7)}
\Ag{(1563,876.3)--(1993,876.3)--(Polr1e.south-|1993,0)}\Ag{(1756,876.3)--(Rasal2.south-|1756,0)}
\Lg{(1790.7,916.7)--(1790.7,1136.3)}
\foreach \ty/\tn in {916.7/Lrpprc,933.3/Mtif2,960/MCC,973.3/Polr1c,990.3/Nkiras1,1013.3/Nkiras2,1036.7/Polr1d,1050.3/Polr1a,1070.3/Polr1b,1086.3/Polr2h,1110.3/Gm10774,1130.3/Cd3eap}{\Ag{(1790.7,\ty)--(\tn.west|-1790.7,\ty)}}
\Ag{(1790.7,1136.3)--(873.2,1136.3)--(873.2,573.7)--(892.5,573.7)}
\Lg{(1300,1010.3)--(1693,1010.3)}\Lg{(1693,996.7)--(1693,1020.3)}\Ag{(1693,996.7)--(1827,996.7)}\Ag{(1693,1020.3)--(1897,1020.3)}
\Ag{(1463.7,793.7)--(1660.4,793.7)--(Usp2.north-|1660.4,0)}\Ag{(1646.7,793.7)--(Gtf2i.north-|1646.7,0)}
\Ag{(1713.3,1096.3)--(Tnip2.south-|1713.3,0)}\Lg{(1713.3,1096.3)--(890.7,1096.3)--(890.7,780)}
\Lg{(1636.7,800)--(1636.7,1096.3)}\Ag{(1636.7,800)--(1463.7,800)}
\Lg{(1623.6,863.7)--(1623.6,1106.3)--(620.4,1106.3)}\Lg{(Nfkbie.east)--(1616.2,913.3)--(1616.2,1123.3)--(576.4,1123.3)}
\Ag{(1613.2,723.3)--(1613.2,853.3)--(Nfkbib.east)}\Lg{(1500,723.3)--(1613.2,723.3)}
\Ag{(1360.7,594)--(1360.7,766.7)--(1400,766.7)--(Nfkb2.north-|1400,0)}\Ag{(Eif4a3.south-|1357,0)--(1357,763.3)--(Ikbke.west)}
\Ag{(1410.7,723)--(Nfkb2.north-|1410.7,0)}\Ag{(1420,750)--(Nfkb2.north-|1420,0)}\Ag{(1430.4,730)--(Nfkb2.north-|1430.4,0)}\Ag{(1436.4,743.3)--(Nfkb2.north-|1436.4,0)}
\Ag{(1436.7,930)--(Nfkb2.south-|1436.7,0)}\Ag{(1450,856.7)--(Nfkb2.south-|1450,0)}\Ag{(1360,796.7)--(1390,796.7)}\Ag{(1360,803.3)--(1390,803.3)}
\Ag{(1503,810)--(1463.7,810)}\Lg{(1503,810)--(Rel1.north-|1503,0)}
\Ag{(Nfkb1b.west)--(Nfkb1a.east)}\Ag{(Nfkb1b.south-|1373,0)--(1373,850)--(1343.5,856)}\Ag{(Nfkb1b.south-|1383,0)--(1383,863)--(1343.5,863)}
\Ag{(1518,856.7)--(1443.6,856.7)--(1443.6,883)--(1415.7,883)}\Ag{(Nfkbia2.east)--(Rel1.west)}
\Ag{(Nfkbib.south-|1532,0)--(1540,895)--(Rel1.east)}\Ag{(1553,791)--(Nfkbib.north-|1548,0)}\Ag{(1408,830)--(1540,830)--(1534,847)}
\Ag{(1496.7,840)--(1408,840)}\Lg{(1496.7,840)--(Rel1.north-|1496.7,0)}\Ag{(1493.3,1100)--(Rel1.south-|1493.3,0)}\Ag{(1511.7,937)--(Rel1.south-|1511.7,0)}
\Ag{(Rel1.south-|1483.3,0)--(1483.3,956.7)--(Papola.west)}\Ag{(1459.3,870)--(Ddx3x.north-|1459.3,0)}
\Lg{(1436.7,930)--(1436.7,1020)}\Ag{(1436.7,956.7)--(Pml.east)}\Ag{(1436.7,990)--(Faf1.east)}
\Ag{(1327,930.3)--(1436.4,930.3)--(1436.4,1046.7)--(1400,1046.7)--(Unc5cl.south-|1403,0)}
\Lg{(1443.6,900)--(1443.6,1010.3)}\Lg{(Rela3.east)--(Nfkbie.west)}\Lg{(Rel1.east)--(Nfkbie.west)}
\Ag{(Nfkbib.west)--(1470,863)--(1470,913.3)--(1407,913.3)}
\Ag{(Relb.north-|1263.6,0)--(1263.6,840.7)--(1292,840.7)}\Ag{(1300,800)--(Nfkb1a.north-|1300,0)}\Ag{(1313,776)--(Nfkb1a.north-|1313,0)}\Ag{(1330,743.3)--(Nfkb1a.north-|1330,0)}\Lg{(1243,743.3)--(1436.4,743.3)}
\Ag{(Rela2.south-|1323.6,0)--(1323.6,897)--(1298,899)}\Lg{(Relb.south-|1266.4,0)--(1266.4,926.7)--(1450,926.7)--(1450,856.7)}
\Ag{(1360,906.7)--(1333,906.7)--(1333,1083.3)--(783,1083.3)--(Commd1.south-|783,0)}\Ag{(1346.4,1106.3)--(1346.4,877)--(1358,877)}
\Ag{(1200,843.3)--(1200,1070)--(Nfkbiz.east)}\Ag{(1200,843.3)--(1129.3,843.3)--(Bcl3.north-|1129.3,0)}\Ag{(1300,836.7)--(1140.4,836.7)--(Kpna3.north-|1140.4,0)}\Lg{(1206.8,843)--(1206.8,1123.3)}
\Lg{(1011,790)--(1243,790)}\Ag{(1183.6,790)--(NfkbiaC.north-|1183.6,0)}\Lg{(1011,806.7)--(1173,806.7)}\Ag{(1173,806.7)--(NfkbiaC.north-|1173,0)}
\Lg{(1120.7,883.3)--(1153.6,883.3)--(1153.6,710)}\Lg{(1120.7,883.3)--(1120.7,1050.3)}
\foreach \ty/\tn in {956.7/Usp11,980.3/BCL7A,1003.3/Hdac6,1026.3/KPNA2,1050.3/Kpna6}{\Ag{(1120.7,\ty)--(\tn.east|-1120.7,\ty)}}
\Ag{(1026.8,861)--(1026.8,882)}\Ag{(1026.8,861)--(1110.7,861)--(1110.7,920)--(1003.6,920)--(Rnf25.north-|1003.6,0)}\Ag{(1106.4,861)--(1106.4,906.7)--(1091,906.7)}\Ag{(Hdac2.east)--(Hdac1.west)}
\Ag{(1010.7,1106.3)--(1010.7,1023.3)--(1041,1023.3)}
\Lg{(Relb.north-|1255,0)--(1216.8,890.3)--(1216.8,1070.3)}
\Ag{(1216.8,948.7)--(1253,950)}\Ag{(1216.8,973.3)--(1253,973.3)}\Ag{(1216.8,1000.3)--(1253,1000.3)}\Ag{(1216.8,1022)--(1251.4,1024)}\Ag{(1216.8,1046)--(1253,1047)}\Ag{(1216.8,1070.3)--(Dpf2.west)}
\Lg{(Rela2.south-|1326.8,0)--(1326.8,936.7)}\Lg{(1333,906.7)--(1333,870)}
\Ag{(Gnb2l1.south-|561.4,0)--(Nsmaf.north-|561.4,0)}\Ag{(677.5,464.3)--(702.5,464.3)}\Lg{(677.5,471)--(702.5,471)}\Ag{(772,470)--(788,470)}\Ag{(867,470)--(838,470)}
\Ag{(883.6,493.3)--(733,493.3)--(Trpc4ap.south-|733,0)}\Ag{(883.6,493.3)--(883.6,1006.7)--(566.8,1006.7)--(Nr22.south-|566.8,0)}\Lg{(837.5,670)--(883.6,670)}
\Ag{(Trpc4ap.south-|710.4,0)--(Ptk2.north-|710.4,0)}\Lg{(706,475)--(706,554)}\Ag{(Gab1.east)--(Bag4.west)}\Lg{(681.8,510)--(Gab1.west)}
\Ag{(813.6,564)--(813.6,523.3)--(766,523.3)}\Ag{(Cradd.south-|906,0)--(Casp2.north-|911,0)}\Ag{(Cradd.east)--(923.2,477)--(923.2,483.3)--(957.5,483.3)}
\Ag{(803.6,564)--(803.6,540.3)--(536.4,540.3)--(Pfdn2.north-|536.4,0)}\Lg{(766.8,546.7)--(766.8,610)--(790,610)}\Lg{(770.4,500)--(770.4,607)}
\Lg{(Map3k14.south-|750.4,0)--(750.4,633.3)--(1129,633.3)}\Lg{(Map3k14.south-|763,0)--(763,643.7)--(1200,643.7)}\Lg{(810.4,590)--(810.4,613.3)--(926.8,613.3)--(926.8,590)}
\Lg{(Map3k3.south-|843.6,0)--(843.6,820)}
\foreach \ty/\tn in {703/Ywhag,726.7/Ywhab,750/Ywhae,773/Ywhah,796.7/Gm2423,820/Ywhaz}{\Ag{(843.6,\ty)--(\tn.east|-843.6,\ty)}}
\Ag{(813,853.3)--(Map3k8.south-|813,0)}\Ag{(823,836)--(Map3k8.south-|823,0)}
\Ag{(604,773)--(590,773)}\Lg{(604,773)--(604,853.3)--(923,853.3)}\Ag{(923,853.3)--(Iqgap2.north-|923,0)}
\Ag{(706.4,836)--(Fbxw11.north-|706.4,0)}\Lg{(706.4,836)--(1300,836)}
\Ag{(Map3k7ip2.south-|700.7,0)--(700.7,833)--(563,833)--(Nr22.north-|563,0)}\Ag{(903,660)--(903,860.7)--(580,860.7)--(Nr22.north-|580,0)}
\Ag{(1000,660)--(Pebp1.east)}\Lg{(Pebp1.south-|916.8,0)--(916.8,706.7)--(1300,706.7)}
\Ag{(883.6,723.3)--(1300,723.3)}\Ag{(970,723.3)--(Pdcd2.south-|970,0)}
\Ag{(1302,713.7)--(580.7,713.7)}
\Lg{(862.5,753.3)--(862.5,776.7)}\Ag{(862.5,753.3)--(Birc3.west)}\Ag{(862.5,776.7)--(Birc2.west)}
\Ag{(Map3k1.south-|660.7,0)--(660.7,760)--(650,760)--(Wdr68.north-|650,0)}\Ag{(660.7,760)--(666.8,760)--(Ube2i.north-|666.8,0)}
\Ag{(634.6,620)--(646.4,620)--(Mark2.north-|646.4,0)}\Ag{(Map3k5.south-|596.4,0)--(Map2k5.north-|596.4,0)}\Ag{(747,650)--(766.4,650)--(766.4,670)--(Map3k7ip2.east)}
\Ag{(893,1083.3)--(G3bp2.south-|893,0)}\Lg{(956.8,513)--(956.8,640)}\Ag{(956.8,513.3)--(Fasn.west)}\Ag{(950,541.7)--(983,541.7)}\Ag{(950,570)--(979,570)}
\Ag{(1000,553.3)--(1048.5,553.3)}\Ag{(1021,575)--(RPL30.west)}\Ag{(950,603.3)--(1060,603.3)--(RPL30.south-|1060,0)}\Ag{(950,596.7)--(1166.8,596.7)--(RPS13.south-|1166.8,0)}\Ag{(950,586.7)--(1178.6,586.7)--(RPS13.south-|1178.6,0)}
\Ag{(Chuk.south-|1146.8,0)--(1146.8,820)--(1132,820)}\Ag{(1056.4,853.3)--(1056.4,829)--(1069,829)}
\Ag{(1246,710)--(1070.4,710)--(Mcm5.south-|1070.4,0)}\Ag{(1113.6,710)--(Mcm7.north-|1113.6,0)}
\Ag{(1130,730)--(Chuk.south-|1130,0)}\Ag{(1183,760)--(Ikbkg.south-|1183,0)}\Ag{(1233,740)--(Ikbkb.south-|1233,0)}\Ag{(1246.4,745)--(Ikbkb.south-|1246.4,0)}\Ag{(1307,707)--(1307,686.7)--(1270.7,686.7)}
\Ag{(1316,576.7)--(Ikbkg2.north-|1316,0)}\Lg{(1000,576.7)--(1316,576.7)}\Ag{(Hspb1.south-|1326.8,0)--(Ikbkg2.north-|1326.8,0)}\Ag{(1336.8,743.3)--(Ikbkg2.south-|1336.8,0)}
\Ag{(1450.7,710)--(1450.7,650.3)--(1425,650.3)}\Ag{(1450.7,676.7)--(1431.4,676.7)}\Lg{(1352,710)--(1450.7,710)}
\Ag{(873,966.3)--(643.6,966.3)--(643.6,876.7)--(665,876.7)}\Ag{(643.6,903)--(686.8,903)}\Ag{(643.6,910)--(686.8,910)}\Ag{(643.6,926.7)--(685,926.7)}
\Ag{(576.4,1123.3)--(576.4,896.7)--(686.8,896.7)}\Ag{(576.4,920)--(685,920)}\Lg{(620.4,1106.3)--(620.4,910)--(643.6,910)}\Ag{(620.4,933.3)--(685,933.3)}\Ag{(620.4,953.3)--(673,953.3)}
\Ag{(703,1123.3)--(SKP1A.south-|703,0)}\Ag{(747,920)--(756.8,920)--(756.8,880)--(Fbxw11.east)}\Ag{(873,913.7)--(749,913.7)}
\Ag{(936.4,800)--(936.4,923)--(728.6,923)}\Ag{(728.6,930.3)--(756.8,930.3)--(756.8,950.3)--(727.5,950.3)}\Ag{(840.4,866.7)--(840.4,956.7)--(727.5,956.7)}
\Ag{(1000,866.7)--(790.4,866.7)--(Commd1.north-|790.4,0)}\Ag{(856.4,866.7)--(SUMO1.north-|856.4,0)}\Ag{(923,1106.3)--(Iqgap2.south-|923,0)}
% steel blue
\As{(Casp7.west)--(687.5,547)--(687.5,244)--(1079,244)--(Ra1.south-|1079,0)}
\As{(851.4,411.3)--(RipkA.south-|851.4,0)}\As{(699,411.3)--(993.6,411.3)--(Traf1.south-|993.6,0)}\As{(699,411.3)--(699,616)--(719,616)}\Ls{(Casp8.north-|973,0)--(973,411.3)}
\As{(624,483)--(486.4,483)--(486.4,1070)--(1100.7,1070)--(1100.7,1056.7)--(1196.4,1056.7)--(1196.4,956.7)--(1173,956.7)--(NfkbiaC.south-|1173,0)}
% blue
\Ab{(Ripk3.north-|1415.7,0)--(1415.7,293.7)--(840,293.7)--(RipkA.north-|840,0)}
\Ab{(Tbk1.south-|1183.6,0)--(1183.6,493.5)--(1773.3,493.5)--(1773.3,640.3)--(1803.4,640.3)}
\Ab{(Tbk1.south-|1213.6,0)--(1213.6,643.3)--(1363,643.3)--(1363,740)--(1503.6,740)--(Rela1.north-|1503.6,0)}
\Lb{(Src.north-|1530.7,0)--(1530.7,483.3)--(1293.6,483.3)--(1293.6,824)}
\Ab{(1513,513.3)--(1446.4,513.3)--(1446.4,663.3)--(1493.3,663.3)--(Chuk2.north-|1493.3,0)}\Ab{(1446.4,636.7)--(1266.8,636.7)--(Ikbkb.north-|1266.8,0)}
\Ab{(Map3k3.south-|826.4,0)--(826.4,620.3)--(936.4,620.3)--(936.4,613.3)--(1260.7,613.3)--(Ikbkb.north-|1260.7,0)}
\Ab{(1226.8,643.3)--(Ikbkb.north-|1226.8,0)}
\Ab{(787.5,623.3)--(1336.8,623.3)--(Ikbkg2.north-|1336.8,0)}\Lb{(1339,700.3)--(1446,700.3)}
\Ab{(Ikbkb.south-|1226.5,0)--(1226.5,720.3)--(1056.8,720.3)--(1056.8,812.7)--(1044,812.7)}
\Ab{(Ikbkb.south-|1253.6,0)--(1253.6,866)--(1297,866)}
\Ab{(1253.6,750.3)--(1560,750.3)--(Nfkbib.north-|1560,0)}
\Ab{(1237,773.3)--(1373,773.3)--(Nfkb1b.north-|1373,0)}
\Ab{(Map3k5.west)--(470.4,613)--(470.4,996)--(910.7,996)--(910.7,883)--(1303,883)--(Rela2.south-|1303,0)}
\Ab{(1010,883)--(Nfkbia1.south-|1010,0)}\Lb{(1043.6,883)--(1043.6,843)--(596.4,843)--(596.4,790)--(Csnk2b.east)}
\Ab{(Map3k1.south-|693.6,0)--(693.6,626.3)--(456.4,626.3)--(456.4,983)--(943.6,983)--(943.6,820)--(Nfkbia1.west)}
\Ab{(Map3k2.west)--(493,556.7)--(493,1043)--(966.8,1043)--(966.8,943)--(1156,943)--(NfkbiaC.south-|1156,0)}
\Ab{(1166.4,803.3)--(963.6,803.3)--(963.6,940)--(1166,940)--(NfkbiaC.south-|1166,0)}\Lb{(1166.4,803.3)--(1166.4,740)--(1363,740)}
\Ab{(1190.4,820)--(NfkbiaC.north-|1190.4,0)}\Lb{(1190.4,820)--(1341,820)}
\Ab{(Prkcz.south-|1896.5,0)--(1896.5,763.3)--(1563,763.3)--(1563,776.7)--(1547,776.7)}
\Ab{(Prkaca.south-|1936.3,0)--(1936.3,766.3)--(1566.7,766.3)--(1566.7,783.3)--(1547,783.3)}
\Ab{(Rps6ka5.north-|1943.3,0)--(1943.3,883.3)--(1653.3,883.3)--(1653.3,790)--(1547,790)}
\Ab{(Akt2.south-|2006,0)--(2006,700)--(Chuk2.east)}
\Ab{(1408,826)--(1630.6,826)--(1630.6,986.7)--(HIST3H3.east)}\Ab{(1630.6,826)--(1408,826)}
\Ab{(Chuk2.south-|1513.3,0)--(Rela1.north-|1513.3,0)}
\Ab{(Chuk2.south-|1496.5,0)--(1496.5,823.3)--(1470,823.3)--(1470,846.7)--(1396.7,846.7)--(Nfkbia2.north-|1396.7,0)}
\Ab{(1526.7,750.3)--(Rela1.north-|1526.7,0)}
\Ab{(Akt1.north-|1963.4,0)--(1963.4,613.6)--(1466.7,613.6)--(1466.7,706.7)--(1487,706.7)}\Ab{(1466.7,700)--(Chuk2.west)}
\Ab{(1090,396)--(1082,388)}
% orange
\Ao{(BircA.north-|735.7,0)--(735.7,298.7)--(805,298.7)--(TrafA.north-|805,0)}
\Ao{(Tnfaip3.north-|1635,0)--(1635,401.3)--(1085,401.3)--(Traf2C.south-|1085,0)}
\Ao{(1090,401.3)--(1076,388)}
\Ao{(1327.5,550.3)--(1203.6,550.3)--(1203.6,640)--(1033,640)--(1033,776.7)--(1063.6,776.7)--(1063.6,823.3)--(1044,823.3)}
\Ao{(728.6,936.7)--(1145.7,936.7)--(NfkbiaC.south-|1145.7,0)}
\Lo{(796.4,936.7)--(796.4,1100.3)--(1603.4,1100.3)--(1603.4,943.3)--(1673,943.3)--(1673,813.3)--(1483.3,813.3)--(1483.3,776.7)--(1380,776.7)}\Ao{(1380,776.7)--(Nfkb1b.north-|1380,0)}
\Ao{(1603.4,943.3)--(1546.7,943.3)--(Nfkbib.south-|1546.7,0)}
\Ao{(728.6,873.3)--(1160.7,873.3)--(NfkbiaC.north-|1160.7,0)}
\Ao{(Gm4596.west)--(1210.7,1090)--(1210.7,943.3)--(1180,943.3)--(NfkbiaC.south-|1180,0)}
\Lo{(1210.7,943.3)--(1210.7,813.3)}\Ao{(1210.7,830.3)--(1292,830.3)}\Ao{(1210.7,813.3)--(1306.4,813.3)--(Ikbkg2.south-|1306.4,0)}
\Ao{(UBCH5B.south-|1433.6,0)--(1433.6,1111)--(1190,1113.3)--(NfkbiaC.south-|1190,0)}
\Ao{(1190,780.3)--(1163.6,780.3)--(Ikbkg.south-|1163.6,0)}
\Ao{(Cdc34.east)--(1756.5,544)--(1756.5,793.3)--(1676.5,793.3)--(1676.5,820)--(1476.7,820)--(1476.7,853.3)--(1403,853.3)--(Nfkbia2.north-|1403,0)}
% yellow, magenta, translocation
\Ay{(Cyld.east)--(1780.6,574)--(Traf6.south-|1780.6,0)}\Ay{(1339.3,574)--(Ikbkg2.north-|1339.3,0)}
\Ay{(1107.5,537)--(1127.5,537)--(Cyld.north-|1127.5,0)}\Ly{(Ptpn11.north-|1637,0)--(1637,399.5)--(1092,399.5)}
\Am{(Ppp2ca.south-|606.4,0)--(606.4,973)--(946.4,973)--(946.4,863.3)--(1297,863.3)}
\At{(Traf4.north-|1528.6,0)--(1528.6,343.3)--(2031,343.3)--(Traf4b.north-|2031,0)}
\At{(Relb.west)--(1223,900)--(Relbb.north-|1223,0)}
\At{(1360,923.3)--(1336.8,923.3)--(Relab.north-|1336.8,0)}
\At{(Nfkb1b.south-|1390.7,0)--(1390.7,863.3)--(1466.4,863.3)--(1466.4,960.3)--(1446.8,960.3)--(Nfkb1c.north-|1446.8,0)}
\At{(Rel1.south-|1504.3,0)--(Relc.north-|1508,0)}
\end{pgfonlayer}
% autophosphorylation
\Auto{848}{349}{826}{362}{829}{339}
\Auto{682}{597}{682}{622}{668}{598}
\Auto{728}{605}{735}{585}{743}{606}
\Auto{1174}{464}{1175}{432}{1186}{454}
\Auto{1495}{690}{1510}{662}{1520}{690}
\Auto{1245}{674}{1250}{655}{1260}{674}
\Auto{1570}{847}{1572}{835}{1568}{825}
\end{tikzpicture}
\end{document}
